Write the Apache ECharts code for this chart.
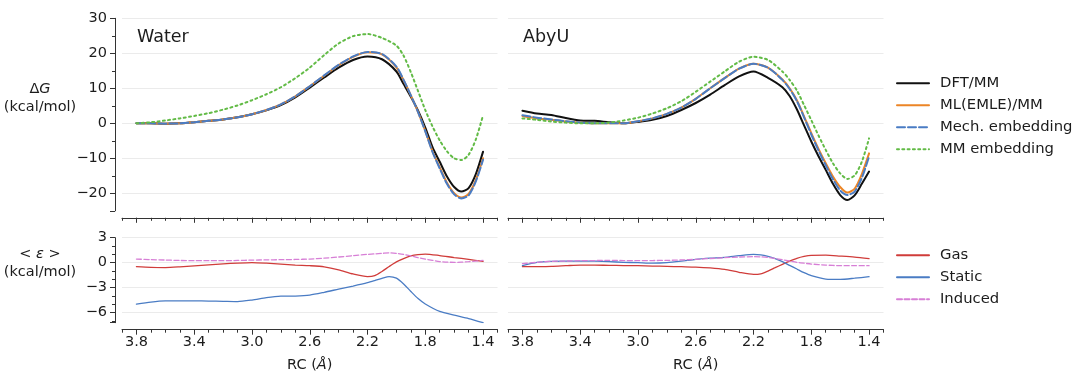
<!DOCTYPE html>
<html><head><meta charset="utf-8">
<script src="https://cdn.jsdelivr.net/npm/echarts@6/dist/echarts.min.js"></script>
<style>html,body{margin:0;padding:0;background:#fff}#c{width:1080px;height:382px}</style>
</head><body><div id="c"></div>
<script>
// ---- data ----
const RC_TOP = [3.8, 3.7, 3.6, 3.5, 3.4, 3.3, 3.2, 3.1, 3.0, 2.9, 2.8, 2.7, 2.6, 2.5, 2.4, 2.3, 2.2, 2.1, 2.0, 1.95, 1.9, 1.85, 1.8, 1.75, 1.7, 1.65, 1.6, 1.55, 1.5, 1.45, 1.4];
const WATER_DFT  = [0, 0, -0.1, 0, 0.3, 0.7, 1.1, 1.7, 2.6, 3.7, 5.2, 7.4, 10.2, 13.1, 15.9, 18.1, 19.1, 18.3, 14.8, 11.2, 7.6, 3.6, -1.2, -6.8, -11.0, -15.2, -18.2, -19.5, -18.5, -14.5, -8.1];
const WATER_EMLE = [0, 0, -0.1, 0, 0.3, 0.7, 1.1, 1.7, 2.6, 3.8, 5.4, 7.7, 10.6, 13.6, 16.6, 19.0, 20.3, 19.7, 16.0, 12.3, 8.0, 3.2, -2.2, -8.0, -12.6, -17.0, -20.0, -21.2, -20.2, -16.2, -10.0];
const WATER_MECH = [0, 0, -0.1, 0, 0.3, 0.7, 1.1, 1.7, 2.6, 3.8, 5.4, 7.7, 10.6, 13.7, 16.7, 19.1, 20.4, 19.8, 16.2, 12.4, 8.0, 3.2, -2.3, -8.2, -12.9, -17.3, -20.3, -21.5, -20.6, -16.6, -10.4];
const WATER_MM   = [0, 0.3, 0.8, 1.4, 2.1, 2.9, 3.9, 5.1, 6.6, 8.3, 10.3, 12.9, 15.9, 19.5, 22.8, 24.9, 25.5, 24.4, 22.2, 19.3, 14.6, 9.2, 3.8, -0.9, -4.9, -8.0, -10.0, -10.5, -9.0, -4.6, 2.3];
const ABYU_DFT  = [3.6, 2.8, 2.4, 1.5, 0.8, 0.7, 0.3, 0.0, 0.4, 1.0, 2.1, 3.8, 5.8, 8.2, 10.9, 13.4, 14.8, 13.0, 10.3, 7.8, 4.0, -0.6, -5.2, -9.4, -13.3, -17.3, -20.5, -21.9, -20.6, -17.3, -13.8];
const ABYU_EMLE = [2.1, 1.4, 1.0, 0.5, 0.2, 0, 0, 0, 0.6, 1.4, 2.7, 4.5, 7.0, 10.0, 12.9, 15.6, 17.0, 15.9, 12.5, 10.0, 6.6, 2.0, -2.8, -7.3, -11.4, -15.2, -18.2, -19.8, -18.7, -14.5, -8.6];
const ABYU_MECH = [2.3, 1.6, 1.1, 0.6, 0.2, 0, 0, 0, 0.6, 1.4, 2.7, 4.5, 7.0, 10.0, 12.9, 15.6, 17.0, 15.9, 12.4, 9.8, 6.4, 1.7, -3.2, -7.8, -12.0, -16.0, -19.2, -20.5, -19.5, -15.6, -9.5];
const ABYU_MM   = [1.4, 1.0, 0.5, 0.2, 0, 0, 0.2, 0.8, 1.6, 2.8, 4.3, 6.3, 9.0, 11.9, 14.8, 17.6, 19.0, 18.1, 14.8, 12.4, 9.4, 5.2, 0.9, -3.5, -7.6, -11.4, -14.3, -15.9, -14.9, -11.0, -4.3];

const RC_BOT = [3.8, 3.7, 3.6, 3.5, 3.4, 3.3, 3.2, 3.1, 3.0, 2.9, 2.8, 2.7, 2.6, 2.5, 2.4, 2.3, 2.2, 2.15, 2.1, 2.05, 2.0, 1.95, 1.9, 1.85, 1.8, 1.7, 1.6, 1.5, 1.4];
const WATER_GAS     = [-0.48, -0.56, -0.58, -0.5, -0.38, -0.26, -0.14, -0.04, 0.02, -0.05, -0.16, -0.28, -0.36, -0.5, -0.85, -1.35, -1.66, -1.55, -1.05, -0.45, 0.1, 0.5, 0.82, 0.98, 1.04, 0.86, 0.62, 0.4, 0.16];
const WATER_STATIC  = [-4.96, -4.72, -4.58, -4.57, -4.58, -4.6, -4.63, -4.66, -4.48, -4.2, -4.02, -4.0, -3.88, -3.55, -3.17, -2.8, -2.4, -2.15, -1.88, -1.66, -1.85, -2.55, -3.45, -4.3, -4.95, -5.85, -6.3, -6.7, -7.2];
const WATER_INDUCED = [0.44, 0.37, 0.32, 0.27, 0.24, 0.24, 0.24, 0.27, 0.31, 0.34, 0.36, 0.39, 0.44, 0.55, 0.68, 0.85, 1.0, 1.06, 1.12, 1.18, 1.12, 1.0, 0.82, 0.6, 0.44, 0.14, 0.04, 0.12, 0.28];
const ABYU_GAS      = [-0.48, -0.47, -0.44, -0.36, -0.28, -0.28, -0.32, -0.34, -0.36, -0.4, -0.44, -0.48, -0.52, -0.62, -0.8, -1.15, -1.4, -1.33, -1.0, -0.6, -0.2, 0.18, 0.52, 0.75, 0.88, 0.9, 0.8, 0.68, 0.48];
const ABYU_STATIC   = [-0.36, 0.04, 0.16, 0.2, 0.2, 0.18, 0.12, 0.05, 0.0, -0.06, 0.0, 0.18, 0.4, 0.54, 0.64, 0.84, 1.0, 0.95, 0.76, 0.48, 0.12, -0.32, -0.76, -1.2, -1.56, -1.96, -2.0, -1.86, -1.68];
const ABYU_INDUCED  = [-0.12, 0.04, 0.16, 0.2, 0.24, 0.26, 0.28, 0.26, 0.24, 0.26, 0.28, 0.33, 0.4, 0.5, 0.6, 0.68, 0.72, 0.7, 0.64, 0.5, 0.36, 0.2, 0.04, -0.06, -0.16, -0.28, -0.36, -0.36, -0.36];

const X_TICKS = [3.8, 3.4, 3.0, 2.6, 2.2, 1.8, 1.4];
const PANEL_TITLES = ['Water', 'AbyU'];
const TOP_NAMES = ['DFT/MM', 'ML(EMLE)/MM', 'Mech. embedding', 'MM embedding'];
const BOT_NAMES = ['Gas', 'Static', 'Induced'];

// ---- styling ----
const FONT = 'DejaVu Sans';
const AXIS_COL = '#333333';
const TEXT_COL = '#1c1c1c';
const GRID_COL = '#ebebeb';
const TOP_STYLES = [
  {color: '#111111', type: 'solid', width: 2},
  {color: '#ec8526', type: 'solid', width: 2},
  {color: '#4a7cc4', type: [8, 3], width: 2},
  {color: '#62bb46', type: [2, 3.3], width: 2}
];
const BOT_STYLES = [
  {color: '#d03c3a', type: 'solid', width: 1.3},
  {color: '#4a7cc4', type: 'solid', width: 1.3},
  {color: '#d77fd6', type: [5, 2.5], width: 1.3}
];
const minusFmt = v => String(v).replace('-', '\u2212');
const pairs = (xs, ys) => xs.map((x, i) => [x, ys[i]]);

const grids = [
  {left: 122, top: 18.3, width: 375.5, height: 192.5},
  {left: 508, top: 18.3, width: 375.5, height: 192.5},
  {left: 122, top: 237.7, width: 375.5, height: 85},
  {left: 508, top: 237.7, width: 375.5, height: 85}
];

const xAxes = [];
grids.forEach((g, i) => {
  const bottomRow = i >= 2;
  xAxes.push({
    type: 'value', gridIndex: i, position: 'bottom', min: 1.3, max: 3.9, interval: 0.1, inverse: true, offset: 7,
    axisLine: {show: true, onZero: false, lineStyle: {color: AXIS_COL, width: 1}},
    axisTick: {show: true, length: 3, lineStyle: {color: AXIS_COL, width: 1}},
    axisLabel: {show: false}, splitLine: {show: false}
  });
  xAxes.push({
    type: 'value', gridIndex: i, position: 'bottom', min: 1.3, max: 3.9, inverse: true, offset: 7,
    axisLine: {show: false, onZero: false},
    axisTick: {show: true, length: 5, customValues: X_TICKS, lineStyle: {color: AXIS_COL, width: 1}},
    axisLabel: {show: bottomRow, customValues: X_TICKS, margin: 5, color: TEXT_COL,
      fontFamily: FONT, fontSize: 14.5, formatter: v => Number(v).toFixed(1)},
    splitLine: {show: false},
    name: bottomRow ? 'RC ({i|Å})' : '', nameLocation: 'middle', nameGap: 28,
    nameTextStyle: {color: TEXT_COL, fontFamily: FONT, fontSize: 14.5,
      rich: {i: {fontStyle: 'italic', fontFamily: FONT, fontSize: 14.5, color: TEXT_COL}}}
  });
});

function yAxis(i, min, max, split, minorSplit, showAxis) {
  return {
    type: 'value', gridIndex: i, position: 'left', min: min, max: max, splitNumber: split, offset: 7,
    axisLine: {show: showAxis, onZero: false, lineStyle: {color: AXIS_COL, width: 1}},
    axisTick: {show: showAxis, length: 5, lineStyle: {color: AXIS_COL, width: 1}},
    minorTick: {show: showAxis, splitNumber: minorSplit, length: 3, lineStyle: {color: AXIS_COL, width: 1}},
    axisLabel: {show: showAxis, showMinLabel: false, margin: 8, color: TEXT_COL, fontFamily: FONT, fontSize: 14.5, formatter: minusFmt},
    splitLine: {show: true, showMinLine: false, lineStyle: {color: GRID_COL, width: 1}}
  };
}
const yAxes = [
  yAxis(0, -25, 30, 5, 2, true),
  yAxis(1, -25, 30, 5, 2, false),
  yAxis(2, -7.2, 3, 3, 3, true),
  yAxis(3, -7.2, 3, 3, 3, false)
];

const series = [];
function addSeries(gi, xs, arrs, names, styles) {
  arrs.forEach((ys, k) => {
    series.push({
      type: 'line', name: names[k], xAxisIndex: gi * 2, yAxisIndex: gi,
      data: pairs(xs, ys), showSymbol: false, symbol: 'none', smooth: 0.25,
      lineStyle: {color: styles[k].color, width: styles[k].width, type: styles[k].type, cap: 'round'},
      itemStyle: {color: styles[k].color}, z: 2 + k, animation: false
    });
  });
}
addSeries(0, RC_TOP, [WATER_DFT, WATER_EMLE, WATER_MECH, WATER_MM], TOP_NAMES, TOP_STYLES);
addSeries(1, RC_TOP, [ABYU_DFT, ABYU_EMLE, ABYU_MECH, ABYU_MM], TOP_NAMES, TOP_STYLES);
addSeries(2, RC_BOT, [WATER_GAS, WATER_STATIC, WATER_INDUCED], BOT_NAMES, BOT_STYLES);
addSeries(3, RC_BOT, [ABYU_GAS, ABYU_STATIC, ABYU_INDUCED], BOT_NAMES, BOT_STYLES);

const legendBase = {
  orient: 'vertical', left: 896, padding: 0, itemWidth: 32, itemHeight: 14, itemGap: 7,
  selectedMode: false, itemStyle: {opacity: 0},
  textStyle: {color: TEXT_COL, fontFamily: FONT, fontSize: 14.8, lineHeight: 14, padding: [0, 0, 0, 6]}
};

const txt = (x, y, text, size, align, rich) => ({
  type: 'text', x: x, y: y, silent: true,
  style: {text: text, fill: TEXT_COL, font: size + 'px "' + FONT + '"', align: align, verticalAlign: 'middle', rich: rich}
});
const richItalic = {i: {fontStyle: 'italic', fontFamily: FONT, fontSize: 14.5, fill: TEXT_COL}, n: {fontFamily: FONT, fontSize: 14.5, fill: TEXT_COL}};

const option = {
  animation: false,
  backgroundColor: '#ffffff',
  grid: grids,
  xAxis: xAxes,
  yAxis: yAxes,
  series: series,
  legend: [
    Object.assign({}, legendBase, {top: 75.7, data: TOP_NAMES}),
    Object.assign({}, legendBase, {top: 247.7, data: BOT_NAMES})
  ],
  graphic: [
    txt(137, 37, PANEL_TITLES[0], 17.5, 'left'),
    txt(523, 37, PANEL_TITLES[1], 17.5, 'left'),
    txt(40, 89, '{n|Δ}{i|G}', 14.5, 'center', richItalic),
    txt(40, 107, '(kcal/mol)', 14.5, 'center'),
    txt(40, 254, '{n|< }{i|ε}{n| >}', 14.5, 'center', richItalic),
    txt(40, 272, '(kcal/mol)', 14.5, 'center')
  ]
};

const chart = echarts.init(document.getElementById('c'), null, {renderer: 'canvas', width: 1080, height: 382});
chart.setOption(option);
</script>
</body></html>
